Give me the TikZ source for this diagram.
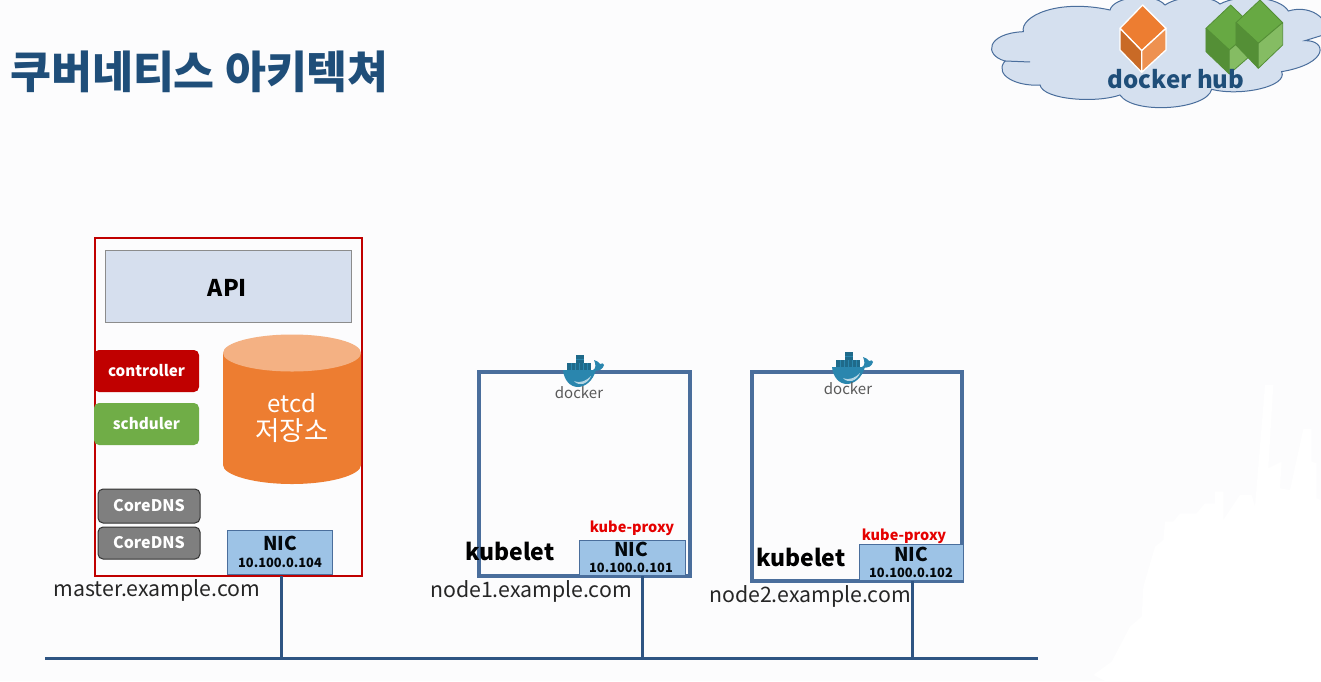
\documentclass[tikz,border=0pt]{standalone}
\usepackage{fontspec}
\setmainfont{Noto Sans CJK KR}
\usetikzlibrary{shapes.geometric}
\definecolor{bgc}{HTML}{FCFCFD}
\definecolor{navy}{HTML}{1F4E79}
\definecolor{linec}{HTML}{2F5583}
\definecolor{nodeb}{HTML}{4A6E9C}
\definecolor{redc}{HTML}{C00000}
\definecolor{apic}{HTML}{D6DFEE}
\definecolor{nicc}{HTML}{9DC3E6}
\definecolor{cloudc}{HTML}{D5E0EF}
\definecolor{oranged}{HTML}{ED7D31}
\definecolor{orangel}{HTML}{F4B183}
\definecolor{orangeleft}{HTML}{C96A26}
\definecolor{orangeright}{HTML}{EE9150}
\definecolor{greenc}{HTML}{70AD47}
\definecolor{greentop}{HTML}{67A943}
\definecolor{greenleft}{HTML}{548F36}
\definecolor{greenright}{HTML}{85BC63}
\definecolor{grayc}{HTML}{7F7F7F}
\definecolor{whalec}{HTML}{2A86AE}
\definecolor{whaled}{HTML}{1F6A8A}
\tikzset{
  box/.style={rectangle,inner sep=0pt,outer sep=0pt,anchor=north west},
  pill/.style={box,rounded corners=5pt,text=white,font=\fontsize{15.2}{16}\selectfont\bfseries},
  dns/.style={pill,fill=grayc,draw=black!80,line width=1pt,font=\fontsize{16}{16}\selectfont\bfseries},
  nicbox/.style={box,fill=nicc,draw=nodeb,line width=.8pt},
  hostbox/.style={box,draw=nodeb,line width=3.2pt},
  net/.style={draw=linec,line width=3pt},
  hostname/.style={inner sep=0pt,font=\fontsize{21.3}{21}\selectfont,text=black!85},
  kubelabel/.style={inner sep=0pt,font=\fontsize{23}{23}\selectfont\bfseries,text=black},
  proxy/.style={inner sep=0pt,font=\fontsize{14.5}{15}\selectfont\bfseries,text=red!90!black},
  nicname/.style={inner sep=0pt,font=\fontsize{19}{19}\selectfont\bfseries,text=black!90!navy},
  nicip/.style={inner sep=0pt,font=\fontsize{12.8}{14}\selectfont\bfseries,text=black!90!navy},
  dockerlabel/.style={inner sep=0pt,font=\fontsize{15}{15}\selectfont,text=black!65},
  whale/.pic={
    \fill[whaled] (-14,-9) rectangle (10,0);
    \fill[whaled] (-5,-17) rectangle (3,-9);
    \draw[whalec,line width=.6pt] (-10,-9) -- (-10,0) (-6,-9) -- (-6,0) (-2,-9) -- (-2,0) (2,-9) -- (2,0) (6,-9) -- (6,0) (-5,-13) -- (3,-13);
    \fill[whalec] (-18,-2) -- (15,-2) .. controls (12,9) and (4,15) .. (-3,15) .. controls (-11,15) and (-17,8) .. (-18,-2) -- cycle;
    \fill[white!65!whalec] (-7,9) .. controls (0,12) and (6,8) .. (10,4) .. controls (7,12) and (-2,15) .. (-7,9) -- cycle;
    \fill[whalec] (12,-2) .. controls (15,-3) and (15,-8) .. (13,-12) .. controls (16,-11) and (18,-10) .. (19,-8) .. controls (21,-9) and (23,-9) .. (23,-7) .. controls (22,-3) and (18,0) .. (12,-2) -- cycle;
  }
}
\begin{document}
\begin{tikzpicture}[x=1pt,y=-1pt]
\useasboundingbox (0,0) rectangle (1321,681);
\fill[bgc] (0,0) rectangle (1321,681);
% faint white background shape, lower right
\begin{scope}[shift={(1040,360)},x=.3333pt,y=-.3333pt]
\fill[white] (160,945) -- (215,905) -- (270,800) -- (305,770) -- (310,680) -- (345,560) -- (370,540) -- (375,485) -- (400,485) -- (420,460) -- (470,460) -- (495,430) -- (525,430) -- (525,395) -- (550,395) -- (550,480) -- (600,405) -- (635,405) -- (645,440) -- (675,75) -- (700,75) -- (685,325) -- (725,305) -- (720,385) -- (750,390) -- (790,207) -- (815,207) -- (815,305) -- (830,310) -- (830,415) -- (843,420) -- (843,963) -- (195,963) -- cycle;
\end{scope}

% title
\node[inner sep=0pt,anchor=west,text=navy,font=\fontsize{44.5}{44}\selectfont\bfseries] (title) at (10,72) {쿠버네티스 아키텍쳐};

% cloud (coordinates of the 3x crop)
\begin{scope}[shift={(980,0)},x=.3333pt,y=-.3333pt]
\clip (0,0) rectangle (1023,330);
\path[fill=cloudc,draw=nodeb,line width=1pt]
  (130,95) .. controls (120,50) and (230,-5) .. (390,30)
  .. controls (400,-10) and (520,-25) .. (555,15)
  .. controls (600,-15) and (690,-15) .. (720,12)
  .. controls (780,-20) and (900,-10) .. (925,33)
  .. controls (1000,10) and (1060,70) .. (1030,105)
  -- (975,122)
  .. controls (1040,120) and (1050,190) .. (905,215)
  .. controls (925,260) and (780,290) .. (695,268)
  .. controls (680,330) and (460,345) .. (420,285)
  .. controls (350,310) and (190,300) .. (180,255)
  .. controls (110,260) and (40,225) .. (75,183)
  .. controls (10,165) and (20,100) .. (130,95) -- cycle;
\draw[nodeb,line width=1pt] (75,183) -- (150,186);
\fill[oranged,draw=white,line width=1.3pt,line join=round] (488,15) -- (558,85) -- (485,152) -- (420,85) -- cycle;
\fill[orangeleft,draw=white,line width=1.3pt,line join=round] (420,85) -- (485,152) -- (485,217) -- (420,150) -- cycle;
\fill[orangeright,draw=white,line width=1.3pt,line join=round] (558,85) -- (485,152) -- (485,217) -- (558,150) -- cycle;
\tikzset{gf/.style={draw=greenleft,line width=.8pt,line join=round}}
\fill[greentop,gf] (752,15) -- (825,85) -- (748,150) -- (678,85) -- cycle;
\fill[greenleft,gf] (678,85) -- (748,150) -- (748,222) -- (678,155) -- cycle;
\fill[greenright,gf] (825,85) -- (748,150) -- (748,222) -- (825,155) -- cycle;
\fill[greentop,gf] (840,0) -- (908,68) -- (835,130) -- (768,68) -- cycle;
\fill[greenleft,gf] (768,68) -- (835,130) -- (835,205) -- (768,135) -- cycle;
\fill[greenright,gf] (908,68) -- (835,130) -- (835,205) -- (908,135) -- cycle;
\end{scope}
\node[inner sep=0pt,text=navy,font=\fontsize{24}{24}\selectfont\bfseries] (hub) at (1176,79) {docker hub};

% master
\node[box,draw=redc,line width=2.4pt,minimum width=267pt,minimum height=338pt] (master) at (95,238) {};
\node[box,fill=apic,draw=black!45,line width=.6pt,minimum width=246pt,minimum height=72pt] (api) at (105,250) {};
\node[inner sep=0pt,font=\fontsize{23}{23}\selectfont\bfseries] (apilabel) at (227.5,288) {API};
\node[pill,fill=redc,minimum width=105pt,minimum height=42pt] (controller) at (94,350) {controller};
\node[pill,fill=greenc,minimum width=105pt,minimum height=42pt] (scheduler) at (94,403) {schduler};
\node[dns,minimum width=102pt,minimum height=34pt] (dnsa) at (98,489) {CoreDNS};
\node[dns,minimum width=102pt,minimum height=32pt] (dnsb) at (98,527) {CoreDNS};
% etcd cylinder
\coordinate (etcdc) at (292,353);
\fill[oranged] (223,353) -- (223,465) .. controls (223,475) and (254,484) .. (292,484) .. controls (330,484) and (361,475) .. (361,465) -- (361,353) -- cycle;
\fill[orangel] (etcdc) ellipse [x radius=69pt,y radius=18.5pt];
\node[inner sep=0pt,text=white,font=\fontsize{24}{24}\selectfont] (etcd) at (292,403) {etcd};
\node[inner sep=0pt,text=white,font=\fontsize{26.5}{26}\selectfont] (etcdkr) at (292,431) {저장소};
\node[nicbox,minimum width=105pt,minimum height=44pt] (nicm) at (227,530) {};
\node[nicname] at (280,543) {NIC};
\node[nicip] at (280,563) {10.100.0.104};
\node[hostname] (mname) at (157,590) {master.example.com};

% node1
\node[hostbox,minimum width=211pt,minimum height=204pt] (nodeone) at (479,372) {};
\node[nicbox,minimum width=106pt,minimum height=35pt] (nica) at (579,540) {};
\node[nicname] at (631,549) {NIC};
\node[nicip] at (631,568) {10.100.0.101};
\node[proxy] at (632,528) {kube-proxy};
\node[kubelabel] (kubea) at (510,551) {kubelet};
\node[hostname] (aname) at (531,591) {node1.example.com};
\pic at (581,372) {whale};
\node[dockerlabel] at (579,393) {docker};

% node2
\node[hostbox,minimum width=210pt,minimum height=209pt] (nodetwo) at (752,372) {};
\node[nicbox,minimum width=104pt,minimum height=36pt] (nicb) at (859,544) {};
\node[nicname] at (911,554) {NIC};
\node[nicip] at (911,573) {10.100.0.102};
\node[proxy] at (904,536) {kube-proxy};
\node[kubelabel] (kubeb) at (801,557) {kubelet};
\node[hostname] (bname) at (810,596) {node2.example.com};
\pic at (850,369) {whale};
\node[dockerlabel] at (848,389) {docker};

% network
\coordinate (busl) at (45,658);
\coordinate (busr) at (1038,658);
\coordinate (ta) at (281,658);
\coordinate (tb) at (642,658);
\coordinate (tc) at (912,658);
\draw[net] (busl) -- (busr);
\draw[net] (ta |- master.south) -- (ta);
\draw[net] (tb |- nodeone.south) -- (tb);
\draw[net] (tc |- nodetwo.south) -- (tc);
\end{tikzpicture}
\end{document}
